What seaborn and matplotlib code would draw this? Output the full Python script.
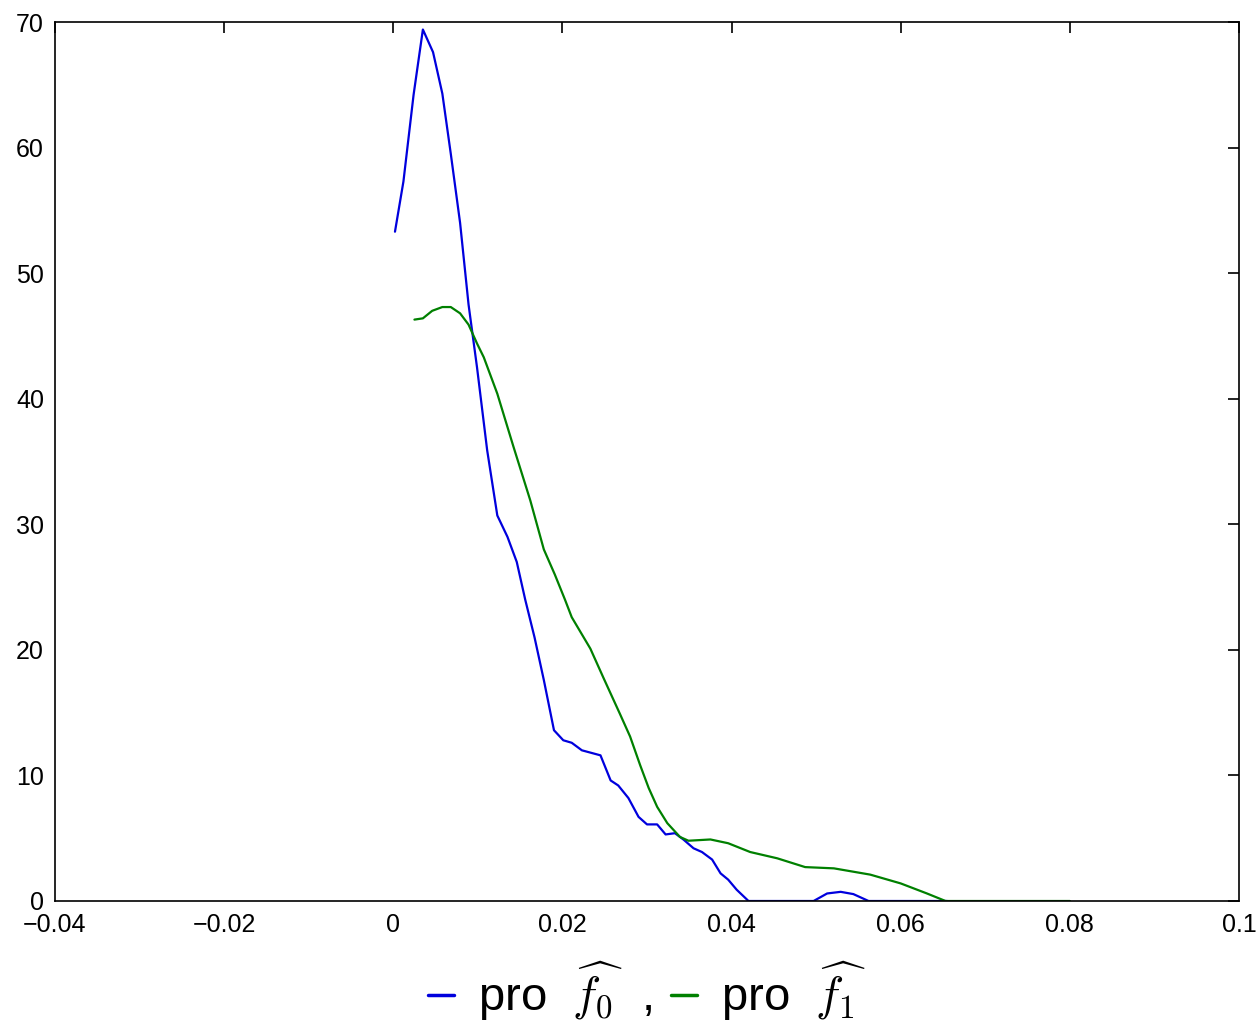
import matplotlib
matplotlib.use("Agg")
import matplotlib.pyplot as plt
import seaborn as sns
import pandas as pd
from matplotlib.lines import Line2D

# ---- data ----
x_f0 = [0.0002, 0.0012, 0.0024, 0.0035, 0.0047, 0.0058, 0.0068, 0.0079, 0.0089, 0.0099,
        0.0111, 0.0123, 0.0135, 0.0146, 0.0156, 0.0167, 0.0178, 0.0190, 0.0201, 0.0211,
        0.0223, 0.0234, 0.0245, 0.0257, 0.0266, 0.0278, 0.0290, 0.0300, 0.0312, 0.0322,
        0.0333, 0.0343, 0.0355, 0.0365, 0.0377, 0.0387, 0.0396, 0.0406, 0.0420, 0.0497,
        0.0513, 0.0529, 0.0544, 0.0562, 0.0655]
y_f0 = [53.3, 57.3, 64.2, 69.4, 67.6, 64.3, 59.5, 54.0, 47.5, 42.5,
        35.9, 30.7, 29.0, 27.0, 24.0, 21.0, 17.6, 13.6, 12.8, 12.6,
        12.0, 11.8, 11.6, 9.6, 9.2, 8.2, 6.7, 6.1, 6.1, 5.3,
        5.4, 4.9, 4.2, 3.9, 3.3, 2.2, 1.7, 0.9, 0.0, 0.0,
        0.6, 0.73, 0.55, 0.0, 0.0]

x_f1 = [0.0025, 0.0035, 0.0046, 0.0058, 0.0068, 0.0079, 0.0089, 0.0099, 0.0107, 0.0123,
        0.0142, 0.0162, 0.0178, 0.0191, 0.0203, 0.0211, 0.0233, 0.0249, 0.0268, 0.0280,
        0.0292, 0.0302, 0.0312, 0.0324, 0.0339, 0.0349, 0.0362, 0.0375, 0.0396, 0.0422,
        0.0454, 0.0487, 0.0521, 0.0564, 0.0600, 0.0631, 0.0653, 0.0800]
y_f1 = [46.3, 46.4, 47.0, 47.3, 47.3, 46.8, 45.9, 44.4, 43.3, 40.4,
        36.2, 31.9, 28.0, 26.0, 24.0, 22.6, 20.1, 17.7, 14.9, 13.1,
        10.8, 9.0, 7.5, 6.2, 5.1, 4.8, 4.85, 4.9, 4.6, 3.9,
        3.4, 2.7, 2.6, 2.1, 1.4, 0.6, 0.0, 0.0]

series_names = ["f0", "f1"]
legend_labels = [r"pro  $\widehat{f_0}$  ,", r"pro  $\widehat{f_1}$"]
x_ticks = [-0.04, -0.02, 0, 0.02, 0.04, 0.06, 0.08, 0.1]
x_tick_labels = ["\u22120.04", "\u22120.02", "0", "0.02", "0.04", "0.06", "0.08", "0.1"]
y_ticks = [0, 10, 20, 30, 40, 50, 60, 70]
y_tick_labels = ["0", "10", "20", "30", "40", "50", "60", "70"]

colors = {"f0": "#0000dd", "f1": "#008000"}

df = pd.concat([
    pd.DataFrame({"x": x_f0, "y": y_f0, "s": series_names[0]}),
    pd.DataFrame({"x": x_f1, "y": y_f1, "s": series_names[1]}),
], ignore_index=True)

sns.set_theme(style="white")
plt.rcParams["font.family"] = ["Liberation Sans", "DejaVu Sans"]
plt.rcParams["mathtext.fontset"] = "cm"

fig = plt.figure(figsize=(12.56, 10.29), dpi=100)
ax = fig.add_axes([55/1256, 1 - 901/1029, (1239 - 55)/1256, (901 - 22)/1029])

sns.lineplot(data=df, x="x", y="y", hue="s", palette=colors, ax=ax,
             linewidth=1.6, legend=False, sort=False, estimator=None)

ax.set_xlim(-0.04, 0.1)
ax.set_ylim(0, 70)
ax.set_xticks(x_ticks)
ax.set_xticklabels(x_tick_labels)
ax.set_yticks(y_ticks)
ax.set_yticklabels(y_tick_labels)
ax.set_xlabel("")
ax.set_ylabel("")
ax.tick_params(direction="in", length=8, width=1.2, colors="black", labelsize=18,
               top=True, right=True, pad=8)
ax.tick_params(axis="x", pad=9)
for sp in ax.spines.values():
    sp.set_visible(True)
    sp.set_color("black")
    sp.set_linewidth(1.2)

handles = [Line2D([0], [0], color=colors[s], lw=2.5) for s in series_names]
ax.legend(handles, legend_labels, loc="center", bbox_to_anchor=(0.5, -0.103),
          ncol=2, frameon=False, fontsize=34, handlelength=0.55, handletextpad=0.5,
          columnspacing=0.4, labelcolor="black", borderpad=0)

fig.savefig("out.png", dpi=100)
